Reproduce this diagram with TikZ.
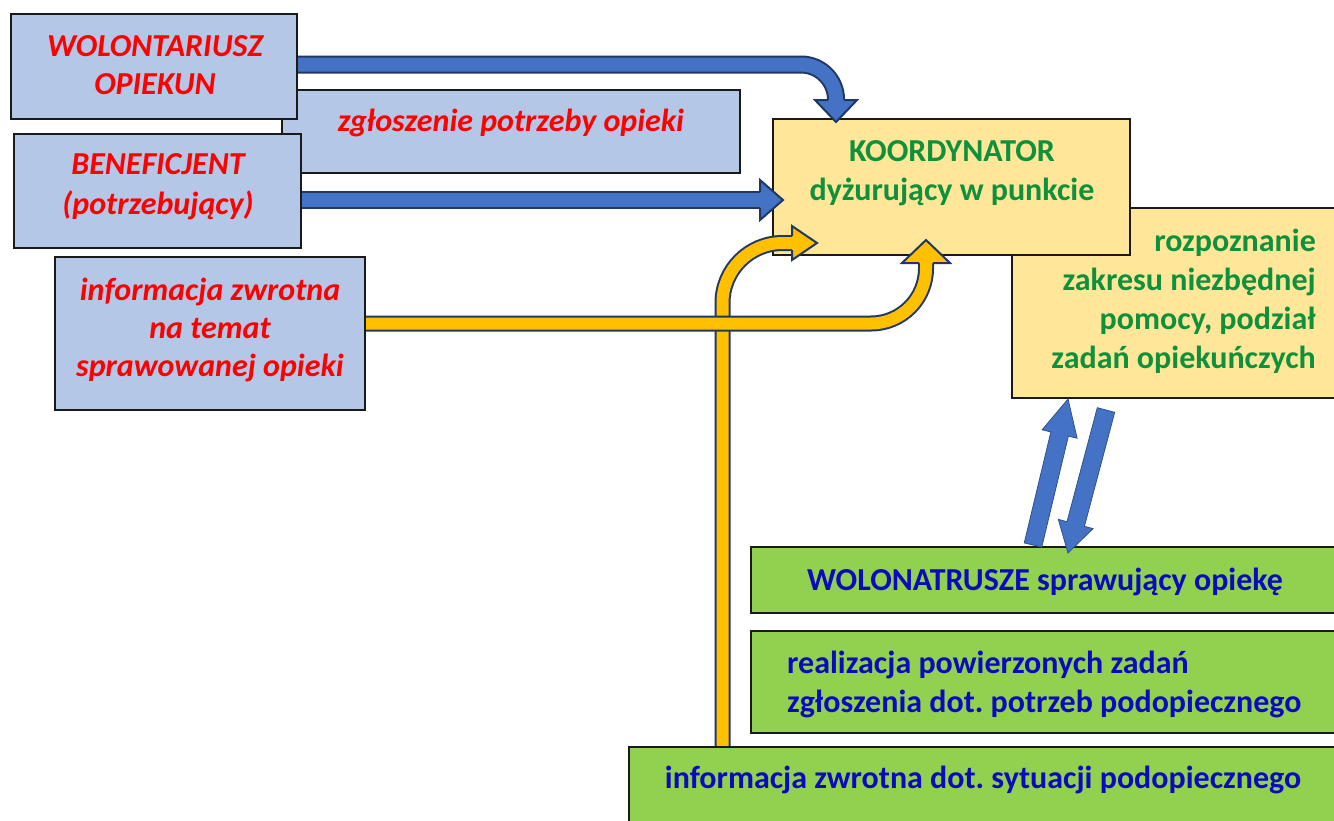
\documentclass[tikz,border=0pt]{standalone}
\usepackage{fontspec}
\setmainfont{Carlito}
\usetikzlibrary{calc,fit}
\definecolor{boxblue}{HTML}{B4C7E7}
\definecolor{redtx}{HTML}{FF0000}
\definecolor{arrblue}{HTML}{4472C4}
\definecolor{arrline}{HTML}{1F3864}
\definecolor{arryel}{HTML}{FFC000}
\definecolor{koordfill}{HTML}{FFE699}
\definecolor{greentx}{HTML}{0F913C}
\definecolor{greenfill}{HTML}{92D050}
\definecolor{bluetx}{HTML}{0B0BBE}
\definecolor{diagline}{HTML}{2F528F}
\definecolor{boxline}{HTML}{1A1A1A}
\frenchspacing
% arrow head: base, tip, shaft half width, head half width, fill colour
\newcommand\ahead[5]{%
  \fill[#5] ($(#1)!#3!90:(#2)$) -- ($(#1)!#4!90:(#2)$) -- (#2) -- ($(#1)!#4!-90:(#2)$) -- ($(#1)!#3!-90:(#2)$) -- cycle;
  \draw[draw=arrline,line width=2pt,line join=miter] ($(#1)!#3!90:(#2)$) -- ($(#1)!#4!90:(#2)$) -- (#2) -- ($(#1)!#4!-90:(#2)$) -- ($(#1)!#3!-90:(#2)$);}
% straight block arrow: tail, tip, shaft half width, head half width, head length
\newcommand\blockarrow[5]{%
  \coordinate (hb) at ($(#2)!#5!(#1)$);
  \filldraw[fill=arrblue,draw=diagline,line width=0.8pt,line join=miter]
    ($(#1)!#3!90:(#2)$) -- ($(hb)!#3!90:(#2)$) -- ($(hb)!#4!90:(#2)$) -- (#2) --
    ($(hb)!#4!-90:(#2)$) -- ($(hb)!#3!-90:(#2)$) -- ($(#1)!#3!-90:(#2)$) -- cycle;}
\begin{document}
\begin{tikzpicture}[x=1pt,y=-1pt,
  box/.style={draw=boxline,line width=1.8pt,inner sep=0pt},
  bluebox/.style={box,fill=boxblue},
  koordbox/.style={box,fill=koordfill},
  greenbox/.style={box,fill=greenfill},
  redtext/.style={inner sep=0pt,text=redtx,font=\fontsize{32}{38}\selectfont\bfseries\itshape,align=center},
  greentext/.style={inner sep=0pt,text=greentx,font=\fontsize{32}{39}\selectfont\bfseries},
  bluetext/.style={inner sep=0pt,text=bluetx,font=\fontsize{32}{39}\selectfont\bfseries},
  shaftblue/.style={draw=arrline,line width=2pt,double=arrblue,double distance=14pt},
  shaftyel/.style={draw=arrline,line width=2pt,double=arryel,double distance=12pt},
]
\useasboundingbox (0,0) rectangle (1334,820);
\clip (0,0) rectangle (1334,820);
\fill[white] (0,0) rectangle (1334,820);

% background boxes
\node[koordbox,fit={(1012,208) (1345,398)}] (roz) {};
\node[koordbox,fit={(773,119) (1130,255)}] (koord) {};
\node[bluebox,fit={(282,90) (740,173)}] (zg) {};

% green boxes under arrows
\node[greenbox,fit={(751,547) (1345,613)}] (wol) {};
\node[greenbox,fit={(751,631) (1345,733)}] (real) {};

% yellow vertical arrow (under horizontal one)
\coordinate (a4s) at (722.5,747);
\coordinate (a4b) at (792,243);
\coordinate (a4t) at (817,243);
\draw[shaftyel,rounded corners=60pt] (a4s) |- (a4b);
\ahead{a4b}{a4t}{7pt}{17pt}{arryel}

% yellow horizontal arrow
\coordinate (a3s) at (365,323.5);
\coordinate (a3b) at (926,263);
\coordinate (a3t) at (926,240);
\draw[shaftyel,rounded corners=55pt] (a3s) -| (a3b);
\ahead{a3b}{a3t}{7pt}{24pt}{arryel}

% blue arrows
\coordinate (a1s) at (297,64.5);
\coordinate (a1b) at (836,100);
\coordinate (a1t) at (836,122);
\draw[shaftblue,rounded corners=35pt] (a1s) -| (a1b);
\ahead{a1b}{a1t}{8pt}{21pt}{arrblue}

\coordinate (a2s) at (301,200);
\coordinate (a2b) at (760,200);
\coordinate (a2t) at (783,200);
\draw[shaftblue] (a2s) -- (a2b);
\ahead{a2b}{a2t}{8pt}{20pt}{arrblue}

% diagonal arrows
\coordinate (upS) at (1033,545);
\coordinate (upT) at (1068,399);
\blockarrow{upS}{upT}{9pt}{18pt}{36pt}
\coordinate (dnS) at (1106,410);
\coordinate (dnT) at (1068,553);
\blockarrow{dnS}{dnT}{9pt}{18pt}{30pt}

% left boxes
\node[bluebox,fit={(11,14) (297,119)}] (wolont) {};
\node[bluebox,fit={(14,134) (301,248)}] (ben) {};
\node[bluebox,fit={(55,257) (365,410)}] (info) {};

% bottom green box
\node[greenbox,fit={(629,747) (1345,830)}] (infz) {};

% texts
\node[redtext] (t1) at (155,65) {WOLONTARIUSZ\\OPIEKUN};
\node[redtext] (t2) at (511,123) {zgłoszenie potrzeby opieki};
\node[redtext,font=\fontsize{32}{40}\selectfont\bfseries\itshape] (t3) at (158,187) {BENEFICJENT\\(potrzebujący)};
\node[redtext] (t4) at (210,330) {informacja zwrotna\\na temat\\sprawowanej opieki};
\node[greentext,align=center] (t5) at (952,173) {KOORDYNATOR\\dyżurujący w punkcie};
\node[greentext,align=right,anchor=east] (t6) at (1316,301) {rozpoznanie\\zakresu niezbędnej\\pomocy, podział\\zadań opiekuńczych};
\node[bluetext] (t7) at (1045,582) {WOLONATRUSZE sprawujący opiekę};
\node[bluetext,align=left,anchor=west] (t8) at (787,684) {realizacja powierzonych zadań\\zgłoszenia dot. potrzeb podopiecznego};
\node[bluetext] (t9) at (983,780) {informacja zwrotna dot. sytuacji podopiecznego};
\end{tikzpicture}
\end{document}
